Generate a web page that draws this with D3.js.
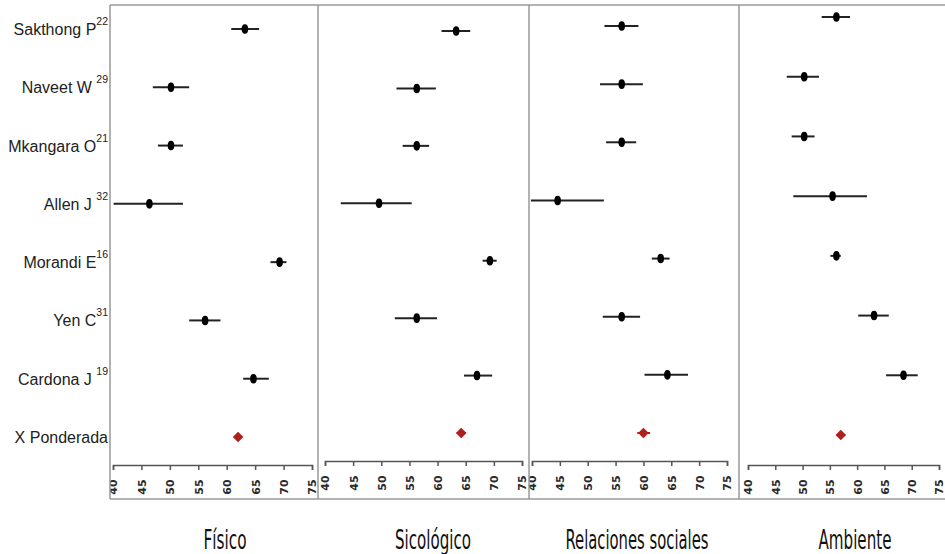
<!DOCTYPE html>
<html>
<head>
<meta charset="utf-8">
<script src="https://cdn.jsdelivr.net/npm/d3@7"></script>
<style>
  body { margin: 0; background: #fff; }
  svg { display: block; }
  .study { font-family: "Liberation Sans", Arial, sans-serif; font-size: 16px; fill: #222; white-space: pre; }
  .tick text { font-family: "DejaVu Sans", Verdana, sans-serif; font-size: 11px; font-weight: bold; fill: #2a2a2a; }
  .axis path, .axis line { stroke: #555; stroke-width: 1.5; }
  .title { font-family: "Liberation Sans Narrow", "DejaVu Sans Condensed", sans-serif; font-size: 26px; fill: #111; }
</style>
</head>
<body>
<div id="chart"></div>
<script>
// study labels and reference numbers
var studies = ["Sakthong P", "Naveet W ", "Mkangara O", "Allen J ", "Morandi E", "Yen C", "Cardona J ", "X Ponderada"];
var refs = ["22", "29", "21", "32", "16", "31", "19", ""];
var domains = ["Físico", "Sicológico", "Relaciones sociales", "Ambiente"];
var tickValues = [40, 45, 50, 55, 60, 65, 70, 75];

// means and confidence limits per domain (last entry = pooled mean)
var fisicoMean = [63.2, 50.2, 50.2, 46.4, 69.3, 56.2, 64.7, 62.0];
var fisicoLow  = [60.8, 47.0, 47.9, 40.1, 67.7, 53.4, 62.9, 61.4];
var fisicoHigh = [65.7, 53.4, 52.3, 52.3, 70.5, 58.9, 67.4, 62.6];

var sicoMean = [63.3, 56.3, 56.3, 49.6, 69.3, 56.3, 67.0, 64.2];
var sicoLow  = [60.7, 52.7, 53.8, 42.8, 68.0, 52.4, 64.7, 63.4];
var sicoHigh = [65.8, 59.7, 58.5, 55.4, 70.5, 59.9, 69.7, 65.0];

var relMean = [56.1, 56.1, 56.1, 44.6, 63.1, 56.1, 64.3, 60.0];
var relLow  = [53.0, 52.2, 53.3, 39.8, 61.5, 52.7, 60.2, 58.9];
var relHigh = [59.1, 59.9, 58.7, 52.9, 64.7, 59.4, 68.0, 61.2];

var ambMean = [56.2, 50.3, 50.3, 55.5, 56.2, 63.1, 68.5, 57.0];
var ambLow  = [53.5, 47.1, 48.0, 48.3, 55.1, 60.2, 65.3, 56.3];
var ambHigh = [58.7, 53.0, 52.2, 61.8, 57.0, 65.8, 71.1, 57.8];

var series = [
  { mean: fisicoMean, low: fisicoLow, high: fisicoHigh },
  { mean: sicoMean, low: sicoLow, high: sicoHigh },
  { mean: relMean, low: relLow, high: relHigh },
  { mean: ambMean, low: ambLow, high: ambHigh }
];

// panel geometry (the source is a collage, so each panel is a bit different)
var panels = [
  { left: 110, right: 318, x0: 113, x1: 312, top: 29, bottom: 437, axisY: 465, titleX: 225 },
  { left: 318, right: 529, x0: 325, x1: 522, top: 31, bottom: 433, axisY: 461, titleX: 433 },
  { left: 529, right: 739, x0: 532, x1: 727, top: 26, bottom: 433, axisY: 461, titleX: 637 },
  { left: 739, right: 945, x0: 748, x1: 939, top: 17, bottom: 435, axisY: 465, titleX: 855 }
];
var titleWidths = [43, 76, 143, 73];

var width = 945, height = 554;
var frameTop = 5, frameBottom = 499;

var svg = d3.select("#chart").append("svg")
    .attr("width", width)
    .attr("height", height);

// frame
svg.append("line")
    .attr("x1", 110).attr("x2", width)
    .attr("y1", frameTop).attr("y2", frameTop)
    .style("stroke", "#999").style("stroke-width", 1.5);
svg.append("line")
    .attr("x1", 110).attr("x2", width)
    .attr("y1", frameBottom).attr("y2", frameBottom)
    .style("stroke", "#999").style("stroke-width", 1.5);

// study labels on the left, aligned with the first panel rows
var y0 = d3.scalePoint().domain(d3.range(studies.length)).range([panels[0].top, panels[0].bottom]);

var labels = svg.selectAll(".study")
    .data(studies)
  .enter().append("text")
    .attr("class", "study")
    .attr("x", 108)
    .attr("y", function(d, i) { return y0(i) + 6; })
    .attr("text-anchor", "end");
labels.append("tspan").text(function(d) { return d; });
labels.append("tspan")
    .attr("dy", -10)
    .style("font-size", "10.5px")
    .text(function(d, i) { return refs[i]; });

panels.forEach(function(p, k) {
  var s = series[k];
  var x = d3.scaleLinear().domain([40, 75]).range([p.x0, p.x1]);
  var y = d3.scalePoint().domain(d3.range(studies.length)).range([p.top, p.bottom]);

  svg.append("clipPath").attr("id", "clip" + k)
    .append("rect")
      .attr("x", p.left).attr("y", frameTop)
      .attr("width", p.right - p.left).attr("height", frameBottom - frameTop);

  var g = svg.append("g").attr("clip-path", "url(#clip" + k + ")");

  // confidence intervals
  g.selectAll(".ci")
      .data(s.mean)
    .enter().append("line")
      .attr("class", "ci")
      .attr("x1", function(d, i) { return x(s.low[i]); })
      .attr("x2", function(d, i) { return x(s.high[i]); })
      .attr("y1", function(d, i) { return y(i); })
      .attr("y2", function(d, i) { return y(i); })
      .style("stroke", function(d, i) { return i === studies.length - 1 ? "#b01e1e" : "#222"; })
      .style("stroke-width", 2);

  // study means
  g.selectAll(".pt")
      .data(s.mean.slice(0, studies.length - 1))
    .enter().append("ellipse")
      .attr("class", "pt")
      .attr("cx", function(d) { return x(d); })
      .attr("cy", function(d, i) { return y(i); })
      .attr("rx", 3.3)
      .attr("ry", 4.8)
      .style("fill", "#000");

  // pooled mean
  var last = studies.length - 1;
  g.append("path")
      .attr("d", d3.symbol().type(d3.symbolSquare).size(56))
      .attr("transform", "translate(" + x(s.mean[last]) + "," + y(last) + ") rotate(45)")
      .style("fill", "#b01e1e");

  // axis
  var axis = g.append("g")
      .attr("class", "axis")
      .attr("transform", "translate(0," + p.axisY + ")")
      .call(d3.axisBottom(x).tickValues(tickValues).tickSize(5).tickSizeOuter(5));
  axis.selectAll(".tick text")
      .attr("transform", "rotate(-90)")
      .attr("text-anchor", "middle")
      .attr("x", -22)
      .attr("y", 0)
      .attr("dy", "0.35em");

  // left border of panel
  svg.append("line")
      .attr("x1", p.left).attr("x2", p.left)
      .attr("y1", frameTop).attr("y2", frameBottom)
      .style("stroke", "#999").style("stroke-width", 1.5);

  // domain title
  svg.append("text")
      .attr("class", "title")
      .attr("x", p.titleX - titleWidths[k] / 2)
      .attr("y", 549)
      .attr("textLength", titleWidths[k])
      .attr("lengthAdjust", "spacingAndGlyphs")
      .text(domains[k]);
});
</script>
</body>
</html>
